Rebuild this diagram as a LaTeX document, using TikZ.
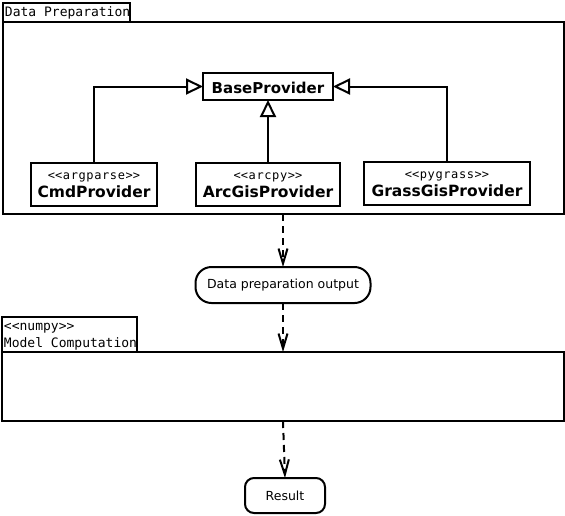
\documentclass[tikz,border=0pt]{standalone}
\usepackage{fontspec}
\setmainfont{DejaVu Sans}
\newfontfamily\tabmono{DejaVu Sans Mono}
\newfontfamily\stmono[LetterSpace=5]{DejaVu Sans Mono}
\usetikzlibrary{arrows.meta}
\newcommand\ltlt{<\kern0pt<}
\newcommand\gtgt{>\kern0pt>}
\tikzset{
  x=1pt, y=-1pt,
  every node/.style={inner sep=0pt, outer sep=0pt},
  frame/.style={draw, line width=2pt, rectangle},
  cls/.style={draw, line width=2pt, rectangle, anchor=north west},
  tabtxt/.style={anchor=base west, font=\tabmono\fontsize{13}{15}\selectfont},
  sttxt/.style={anchor=base, font=\stmono\fontsize{12}{14}\selectfont},
  nametxt/.style={anchor=base, font=\bfseries\fontsize{15.5}{18}\selectfont},
  inherit/.style={line width=2pt, -{Triangle[open, length=17pt, width=16pt, line width=2pt]}},
  flow/.style={line width=2pt, dash pattern=on 7pt off 5pt, -{Straight Barb[length=15pt, width=9pt, line width=2pt]}},
  act/.style={draw, line width=2pt, rectangle, font=\fontsize{12.5}{15}\selectfont}
}
\begin{document}
\begin{tikzpicture}
\useasboundingbox (0,0) rectangle (565,515);
% Data Preparation package
\node[frame, anchor=north west, minimum width=127pt, minimum height=19pt] (dptab) at (3,3) {};
\node[frame, anchor=north west, minimum width=561pt, minimum height=192pt] (dp) at (3,22) {};
\node[tabtxt] (dplabel) at (5,16) {Data Preparation};
% classes
\node[cls, minimum width=130pt, minimum height=27pt] (base) at (203,73) {};
\node[nametxt, font=\bfseries\fontsize{15}{18}\selectfont] (basename) at (268,93) {BaseProvider};
\node[cls, minimum width=126pt, minimum height=43pt] (cmd) at (31,163) {};
\node[sttxt] (cmdst) at (94,179) {\ltlt argparse\gtgt};
\node[nametxt] (cmdname) at (94,197) {CmdProvider};
\node[cls, minimum width=144pt, minimum height=43pt] (arc) at (196,163) {};
\node[sttxt] (arcst) at (268,179) {\ltlt arcpy\gtgt};
\node[nametxt] (arcname) at (268,197) {ArcGisProvider};
\node[cls, minimum width=166pt, minimum height=43pt] (grass) at (364,162) {};
\node[sttxt] (grassst) at (447,178) {\ltlt pygrass\gtgt};
\node[nametxt] (grassname) at (447,196) {GrassGisProvider};
% inheritance
\draw[inherit] (cmd.north) |- (base.west);
\draw[inherit] (arc.north) -- (base.south);
\draw[inherit] (grass.north) |- (base.east);
% output
\node[act, rounded corners=16pt, minimum width=175pt, minimum height=36pt] (out) at (283,285) {Data preparation output};
% Model computation package
\node[frame, anchor=north west, minimum width=135pt, minimum height=35pt] (mctab) at (2,317) {};
\node[frame, anchor=north west, minimum width=562pt, minimum height=69pt] (mc) at (2,352) {};
\node[tabtxt] (mcst) at (4,330) {\ltlt numpy\gtgt};
\node[tabtxt] (mclabel) at (4,347) {Model Computation};
% result
\node[act, rounded corners=9pt, minimum width=80pt, minimum height=35pt] (res) at (285,495.5) {Result};
% flows
\draw[flow] (out.north |- dp.south) -- (out.north);
\draw[flow] (out.south) -- (out.south |- mc.north);
\draw[flow] (out.south |- mc.south) -- (res.north);
\end{tikzpicture}
\end{document}
